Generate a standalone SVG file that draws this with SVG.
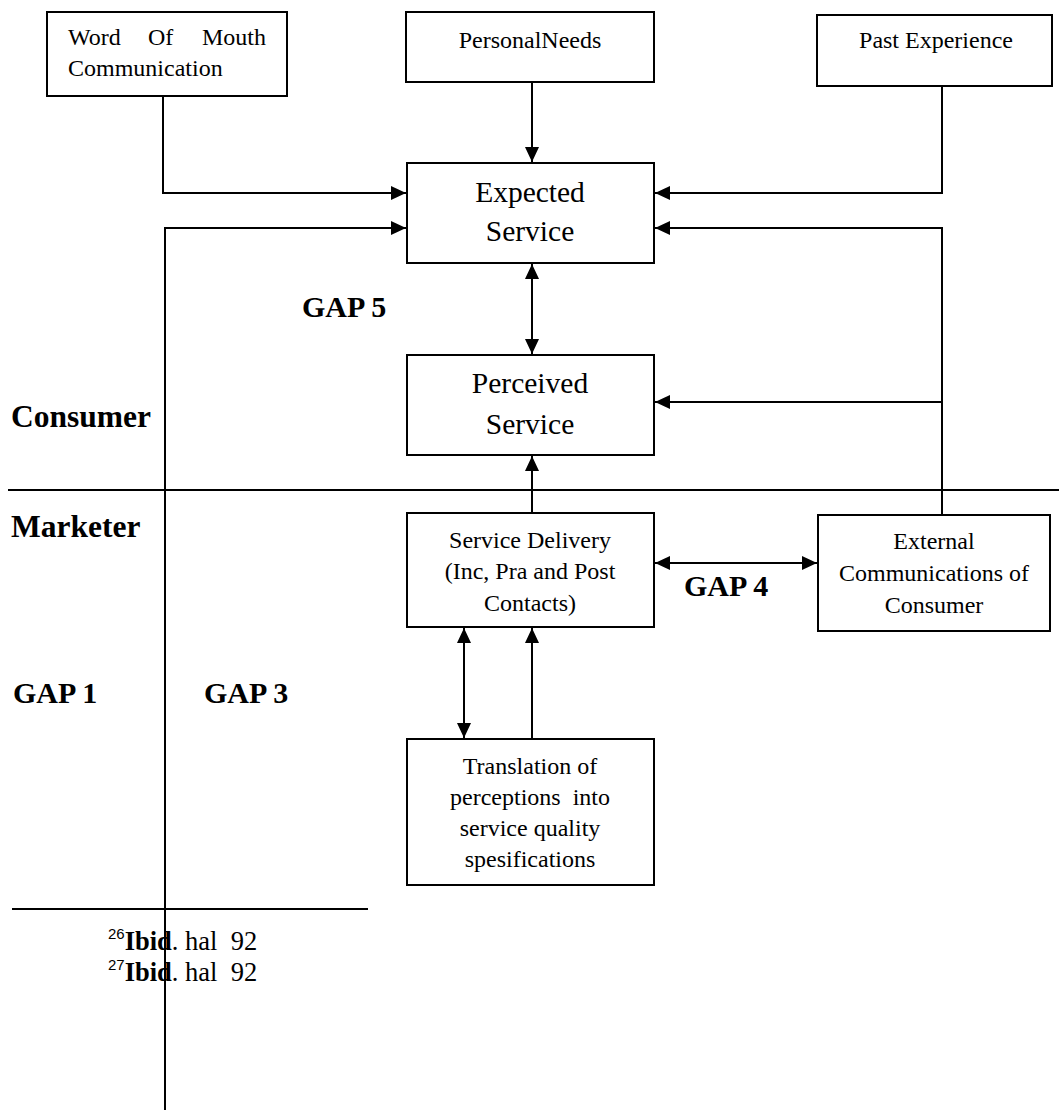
<svg xmlns="http://www.w3.org/2000/svg" width="1059" height="1118" viewBox="0 0 1059 1118">
<style>
  .box { fill: #fff; stroke: #000; stroke-width: 2; }
  .ln { fill: none; stroke: #000; stroke-width: 2; }
  .t { font-family: "Liberation Serif", "Times New Roman", serif; fill: #000; white-space: pre; }
  .s { font-size: 24px; text-anchor: middle; }
  .m { font-size: 29.5px; text-anchor: middle; }
  .b { font-size: 30px; font-weight: bold; }
  .bl { font-size: 31.5px; font-weight: bold; }
  .fn { font-size: 24px; }
  .foot { font-size: 26.5px; }
  .sup { font-family: "Liberation Sans", Arial, sans-serif; font-size: 15px; }
</style>
<defs>
  <marker id="arr" viewBox="0 0 15 14" refX="15" refY="7" markerWidth="15" markerHeight="14" markerUnits="userSpaceOnUse" orient="auto-start-reverse">
    <path d="M0,0 L15,7 L0,14 z" fill="#000"/>
  </marker>
</defs>
<rect width="1059" height="1118" fill="#fff"/>

<g id="connectors">
  <polyline class="ln" points="163,96 163,193 406,193" marker-end="url(#arr)"/>
  <line class="ln" x1="532" y1="82" x2="532" y2="162" marker-end="url(#arr)"/>
  <polyline class="ln" points="942,86 942,193 655,193" marker-end="url(#arr)"/>
  <polyline class="ln" points="165,1110 165,228 406,228" marker-end="url(#arr)"/>
  <polyline class="ln" points="942,515 942,228 655,228" marker-end="url(#arr)"/>
  <line class="ln" x1="942" y1="402" x2="655" y2="402" marker-end="url(#arr)"/>
  <line class="ln" x1="532" y1="264" x2="532" y2="354" marker-start="url(#arr)" marker-end="url(#arr)"/>
  <line class="ln" x1="532" y1="513" x2="532" y2="456" marker-end="url(#arr)"/>
  <line class="ln" x1="655" y1="563" x2="817" y2="563" marker-start="url(#arr)" marker-end="url(#arr)"/>
  <line class="ln" x1="464" y1="628" x2="464" y2="738" marker-start="url(#arr)" marker-end="url(#arr)"/>
  <line class="ln" x1="532" y1="739" x2="532" y2="628" marker-end="url(#arr)"/>
  <line class="ln" x1="8" y1="490" x2="1059" y2="490"/>
  <line class="ln" x1="12" y1="909" x2="368" y2="909"/>
</g>

<g id="word-of-mouth">
  <rect class="box" x="47" y="12" width="240" height="84"/>
  <text class="t fn" x="68" y="45">Word</text>
  <text class="t fn" x="148" y="45">Of</text>
  <text class="t fn" x="266" y="45" text-anchor="end">Mouth</text>
  <text class="t fn" x="68" y="76">Communication</text>
</g>

<g id="personal-needs">
  <rect class="box" x="406" y="12" width="248" height="70"/>
  <text class="t s" x="530" y="48">PersonalNeeds</text>
</g>

<g id="past-experience">
  <rect class="box" x="817" y="15" width="235" height="71"/>
  <text class="t s" x="936" y="48">Past Experience</text>
</g>

<g id="expected-service">
  <rect class="box" x="407" y="163" width="247" height="100"/>
  <text class="t m" x="530" y="202">Expected</text>
  <text class="t m" x="530" y="241">Service</text>
</g>

<g id="perceived-service">
  <rect class="box" x="407" y="355" width="247" height="100"/>
  <text class="t m" x="530" y="393">Perceived</text>
  <text class="t m" x="530" y="434">Service</text>
</g>

<g id="service-delivery">
  <rect class="box" x="407" y="513" width="247" height="114"/>
  <text class="t s" x="530" y="548">Service Delivery</text>
  <text class="t s" x="530" y="579">(Inc, Pra and Post</text>
  <text class="t s" x="530" y="611">Contacts)</text>
</g>

<g id="external-communications">
  <rect class="box" x="818" y="515" width="232" height="116"/>
  <text class="t s" x="934" y="549">External</text>
  <text class="t s" x="934" y="581">Communications of</text>
  <text class="t s" x="934" y="613">Consumer</text>
</g>

<g id="translation">
  <rect class="box" x="407" y="739" width="247" height="146"/>
  <text class="t s" x="530" y="774">Translation of</text>
  <text class="t s" x="530" y="805">perceptions  into</text>
  <text class="t s" x="530" y="836">service quality</text>
  <text class="t s" x="530" y="867">spesifications</text>
</g>

<g id="labels">
  <text class="t b" x="302" y="317">GAP 5</text>
  <text class="t bl" x="11" y="427">Consumer</text>
  <text class="t bl" x="11" y="537">Marketer</text>
  <text class="t b" x="684" y="596">GAP 4</text>
  <text class="t b" x="13" y="703">GAP 1</text>
  <text class="t b" x="204" y="703">GAP 3</text>
</g>

<g id="footnotes">
  <text class="t foot" x="108" y="950"><tspan class="sup" dy="-11">26</tspan><tspan font-weight="bold" dy="11">Ibid</tspan>. hal  92</text>
  <text class="t foot" x="108" y="981"><tspan class="sup" dy="-11">27</tspan><tspan font-weight="bold" dy="11">Ibid</tspan>. hal  92</text>
</g>
</svg>
